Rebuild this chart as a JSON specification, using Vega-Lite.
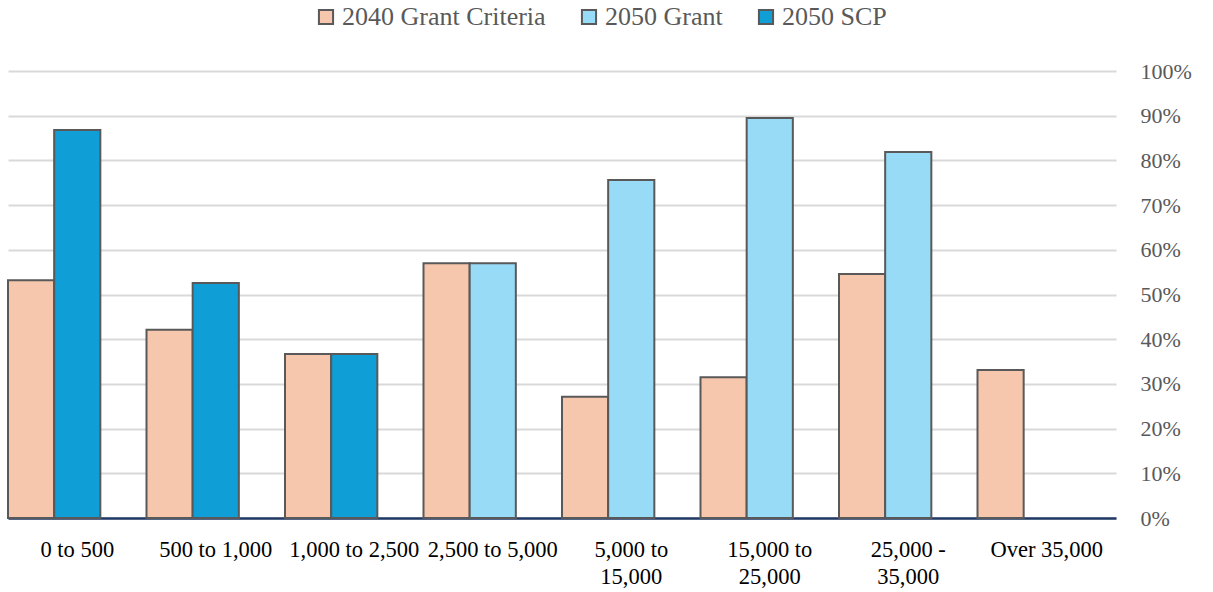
{
  "$schema": "https://vega.github.io/schema/vega-lite/v6.json",
  "width": 1108,
  "height": 447,
  "autosize": {"type": "none"},
  "padding": {"left": 8, "top": 71, "right": 97, "bottom": 74},
  "background": "white",
  "data": {
    "values": [
      {"category": "0 to 500", "series": "2040 Grant Criteria", "slot": "a", "value": 0.532},
      {"category": "0 to 500", "series": "2050 SCP", "slot": "b", "value": 0.868},
      {"category": "500 to 1,000", "series": "2040 Grant Criteria", "slot": "a", "value": 0.421},
      {"category": "500 to 1,000", "series": "2050 SCP", "slot": "b", "value": 0.526},
      {"category": "1,000 to 2,500", "series": "2040 Grant Criteria", "slot": "a", "value": 0.367},
      {"category": "1,000 to 2,500", "series": "2050 SCP", "slot": "b", "value": 0.367},
      {"category": "2,500 to 5,000", "series": "2040 Grant Criteria", "slot": "a", "value": 0.570},
      {"category": "2,500 to 5,000", "series": "2050 Grant", "slot": "b", "value": 0.570},
      {"category": "5,000 to 15,000", "series": "2040 Grant Criteria", "slot": "a", "value": 0.271},
      {"category": "5,000 to 15,000", "series": "2050 Grant", "slot": "b", "value": 0.756},
      {"category": "15,000 to 25,000", "series": "2040 Grant Criteria", "slot": "a", "value": 0.315},
      {"category": "15,000 to 25,000", "series": "2050 Grant", "slot": "b", "value": 0.895},
      {"category": "25,000 - 35,000", "series": "2040 Grant Criteria", "slot": "a", "value": 0.546},
      {"category": "25,000 - 35,000", "series": "2050 Grant", "slot": "b", "value": 0.819},
      {"category": "Over 35,000", "series": "2040 Grant Criteria", "slot": "a", "value": 0.331}
    ]
  },
  "mark": {"type": "bar", "stroke": "#595959", "strokeWidth": 2},
  "encoding": {
    "x": {
      "field": "category",
      "type": "nominal",
      "sort": null,
      "scale": {"paddingInner": 0, "paddingOuter": 0},
      "axis": {
        "title": null,
        "labelAngle": 0,
        "ticks": false,
        "grid": false,
        "domainColor": "#1F3864",
        "domainWidth": 2.5,
        "labelFont": "Liberation Serif",
        "labelFontSize": 22.5,
        "labelColor": "#000000",
        "labelPadding": 20,
        "labelLineHeight": 27,
        "labelOverlap": false,
        "labelBound": false,
        "labelLimit": 0,
        "labelExpr": "datum.value == '5,000 to 15,000' ? ['5,000 to', '15,000'] : datum.value == '15,000 to 25,000' ? ['15,000 to', '25,000'] : datum.value == '25,000 - 35,000' ? ['25,000 -', '35,000'] : datum.value"
      }
    },
    "xOffset": {
      "field": "slot",
      "type": "nominal",
      "scale": {"domain": ["a", "b", "c"], "paddingInner": 0, "paddingOuter": 0}
    },
    "y": {
      "field": "value",
      "type": "quantitative",
      "scale": {"domain": [0, 1], "nice": false},
      "axis": {
        "orient": "right",
        "title": null,
        "values": [0, 0.1, 0.2, 0.3, 0.4, 0.5, 0.6, 0.7, 0.8, 0.9, 1],
        "format": ".0%",
        "domain": false,
        "ticks": false,
        "gridColor": "#D9D9D9",
        "gridWidth": 2,
        "labelFont": "Liberation Serif",
        "labelFontSize": 22,
        "labelColor": "#595959",
        "labelPadding": 24
      }
    },
    "color": {
      "field": "series",
      "type": "nominal",
      "scale": {
        "domain": ["2040 Grant Criteria", "2050 Grant", "2050 SCP"],
        "range": ["#F6C6AD", "#97DBF7", "#0F9ED5"]
      },
      "legend": {
        "title": null,
        "orient": "none",
        "direction": "horizontal",
        "legendX": 305,
        "legendY": -67,
        "symbolType": "square",
        "symbolSize": 200,
        "symbolStrokeColor": "#595959",
        "symbolStrokeWidth": 2,
        "labelFont": "Liberation Serif",
        "labelFontSize": 26,
        "labelColor": "#595959",
        "labelOffset": 3,
        "columnPadding": 30,
        "labelLimit": 0
      }
    }
  },
  "config": {"view": {"stroke": null}}
}
